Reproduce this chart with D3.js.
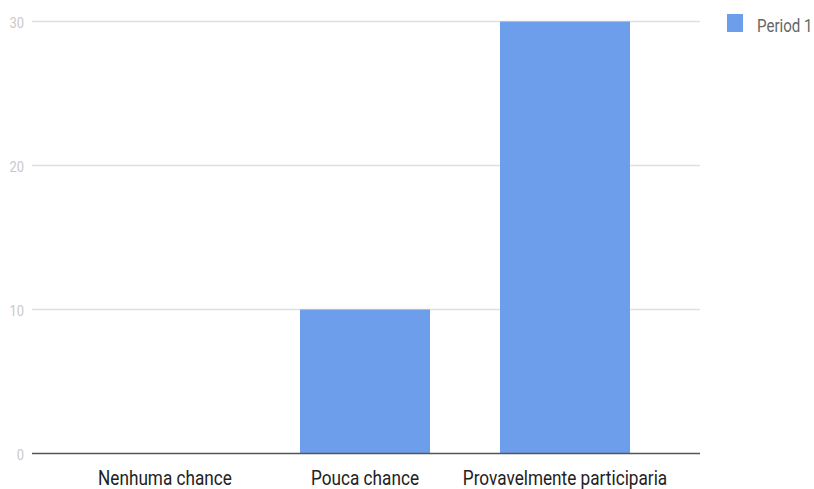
<!DOCTYPE html>
<html>
<head>
<meta charset="utf-8">
<script src="https://cdn.jsdelivr.net/npm/d3@7"></script>
<style>
  html, body { margin: 0; padding: 0; background: #fff; }
  svg { display: block; }
</style>
</head>
<body>
<svg id="chart" width="814" height="489"></svg>
<script>
// Responses per category
const categories = ["Nenhuma chance", "Pouca chance", "Provavelmente participaria"];
const period1 = [0, 10, 30];
const yTicks = [0, 10, 20, 30];
const seriesName = "Period 1";

const svg = d3.select("#chart");
const barColor = "#6d9eeb";
const font = "Roboto, sans-serif";
const squeeze = 0.86; // narrow the glyphs to a condensed look

const x = d3.scaleBand()
  .domain(categories)
  .range([65, 665])
  .paddingInner(0.35)
  .paddingOuter(0.175);

const y = d3.scaleLinear()
  .domain([0, 30])
  .range([453.5, 21.5]);

// Gridlines
svg.append("g")
  .selectAll("line")
  .data(yTicks.filter(d => d !== 0))
  .join("line")
  .attr("x1", 32).attr("x2", 700)
  .attr("y1", d => y(d)).attr("y2", d => y(d))
  .attr("stroke", "#e0e0e0")
  .attr("stroke-width", 1.5);

// Y tick labels
svg.append("g")
  .selectAll("text")
  .data(yTicks)
  .join("text")
  .attr("transform", d => `translate(24,${y(d) + 6}) scale(${squeeze},1)`)
  .attr("text-anchor", "end")
  .attr("font-family", font)
  .attr("font-size", 15)
  .attr("fill", "#c8c8c8")
  .text(d => d);

// Bars
svg.append("g")
  .selectAll("rect")
  .data(categories.map((c, i) => ({ c, v: period1[i] })))
  .join("rect")
  .attr("x", d => x(d.c))
  .attr("width", x.bandwidth())
  .attr("y", d => y(d.v))
  .attr("height", d => y(0) - y(d.v))
  .attr("fill", barColor);

// Baseline
svg.append("line")
  .attr("x1", 32).attr("x2", 700)
  .attr("y1", y(0)).attr("y2", y(0))
  .attr("stroke", "#555")
  .attr("stroke-width", 1.5);

// Category labels
svg.append("g")
  .selectAll("text")
  .data(categories)
  .join("text")
  .attr("transform", d => `translate(${x(d) + x.bandwidth() / 2},485) scale(${squeeze},1)`)
  .attr("text-anchor", "middle")
  .attr("font-family", font)
  .attr("font-size", 20)
  .attr("fill", "#222")
  .text(d => d);

// Legend
const legend = svg.append("g").attr("transform", "translate(727,14)");
legend.append("rect")
  .attr("width", 16).attr("height", 18)
  .attr("fill", barColor);
legend.append("text")
  .attr("transform", `translate(30,18) scale(0.84,1)`)
  .attr("font-family", font)
  .attr("font-size", 18)
  .attr("fill", "#666")
  .text(seriesName);
</script>
</body>
</html>
